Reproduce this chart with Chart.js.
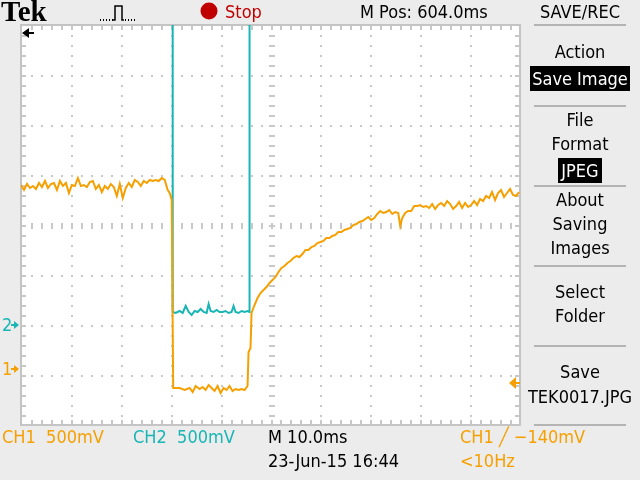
<!DOCTYPE html>
<html>
<head>
<meta charset="utf-8">
<script src="https://cdn.jsdelivr.net/npm/chart.js@4"></script>
<style>
  body { margin: 0; background: #ececec; }
  #wrap { position: relative; width: 640px; height: 480px; overflow: hidden; background: #ececec; }
  canvas { position: absolute; left: 0; top: 0; }
  .t { position: absolute; font-family: 'DejaVu Sans Condensed', 'Liberation Sans Narrow', 'DejaVu Sans', sans-serif;
       font-stretch: condensed; font-size: 18px; line-height: 20px; height: 20px; white-space: pre; color: #000; }
  .c { width: 100px; text-align: center; left: 530px; }
  .inv { background: #000; color: #fff; }
  .or { color: #f5a000; }
  .cy { color: #19b5b5; }
</style>
</head>
<body>
<div id="wrap">
  <canvas id="scope" width="640" height="480"></canvas>

  <div class="t" style="left:1px;top:-3px;height:28px;line-height:28px;font-family:'Liberation Serif','DejaVu Serif',serif;font-weight:bold;font-size:29px;font-stretch:normal">Tek</div>
  <div class="t" style="left:225px;top:2px;color:#c00000">Stop</div>
  <div class="t" style="left:360px;top:2px">M Pos: 604.0ms</div>
  <div class="t c" style="top:2px">SAVE/REC</div>

  <div class="t c" style="top:42px">Action</div>
  <div class="t inv" style="left:530px;top:66px;width:100px;height:25px;line-height:25px;text-align:center">Save Image</div>
  <div class="t c" style="top:110px">File</div>
  <div class="t c" style="top:134px">Format</div>
  <div class="t inv" style="left:558px;top:158px;width:44px;height:25px;line-height:25px;text-align:center">JPEG</div>
  <div class="t c" style="top:190px">About</div>
  <div class="t c" style="top:214px">Saving</div>
  <div class="t c" style="top:238px">Images</div>
  <div class="t c" style="top:282px">Select</div>
  <div class="t c" style="top:306px">Folder</div>
  <div class="t c" style="top:362px">Save</div>
  <div class="t c" style="top:387px;left:520px;width:120px">TEK0017.JPG</div>

  <div class="t cy" style="left:2px;top:315px">2</div>
  <div class="t or" style="left:2px;top:359px">1</div>

  <div class="t or" style="left:2px;top:427px">CH1  500mV</div>
  <div class="t cy" style="left:133px;top:427px">CH2  500mV</div>
  <div class="t" style="left:268px;top:427px">M 10.0ms</div>
  <div class="t or" style="left:460px;top:427px">CH1 ╱ −140mV</div>
  <div class="t" style="left:268px;top:451px">23-Jun-15 16:44</div>
  <div class="t or" style="left:460px;top:451px">&lt;10Hz</div>
</div>

<script>
// screen divisions: x 0..10 (10 ms/div), y -4..4 (500 mV/div)
const ch1Time = [0.00, 0.06, 0.12, 0.18, 0.24, 0.30, 0.36, 0.42, 0.48, 0.54, 0.60, 0.66, 0.72, 0.78, 0.84, 0.90, 0.96,
  1.02, 1.08, 1.14, 1.20, 1.26, 1.32, 1.38, 1.44, 1.50, 1.56, 1.62, 1.68, 1.74, 1.80, 1.86, 1.92, 1.98,
  2.04, 2.10, 2.16, 2.22, 2.28, 2.34, 2.40, 2.46, 2.52, 2.58, 2.64, 2.70, 2.76, 2.82, 2.88, 2.94, 2.98,
  3.02, 3.05, 3.18, 3.28, 3.38, 3.44, 3.50, 3.58, 3.64, 3.70, 3.76, 3.82, 3.88, 3.94, 4.00, 4.06, 4.12,
  4.18, 4.24, 4.30, 4.36, 4.42, 4.48, 4.54, 4.56, 4.60, 4.62, 4.68, 4.74, 4.80, 4.86, 4.92, 4.98,
  5.04, 5.10, 5.16, 5.22, 5.28, 5.34, 5.40, 5.46, 5.52, 5.58, 5.64, 5.70, 5.76, 5.82, 5.88, 5.94,
  6.00, 6.06, 6.12, 6.18, 6.24, 6.30, 6.36, 6.42, 6.48, 6.54, 6.60, 6.66, 6.72, 6.78, 6.84, 6.90, 6.96,
  7.02, 7.08, 7.14, 7.20, 7.26, 7.32, 7.38, 7.44, 7.50, 7.56, 7.60, 7.64, 7.70, 7.76, 7.82, 7.88, 7.94,
  8.00, 8.06, 8.12, 8.18, 8.24, 8.30, 8.36, 8.42, 8.48, 8.54, 8.60, 8.66, 8.72, 8.78, 8.84, 8.90, 8.96,
  9.02, 9.08, 9.14, 9.20, 9.26, 9.32, 9.38, 9.44, 9.50, 9.56, 9.62, 9.68, 9.74, 9.80, 9.86, 9.92, 9.98];
const ch1Level = [0.80, 0.70, 0.82, 0.74, 0.78, 0.72, 0.84, 0.76, 0.88, 0.74, 0.82, 0.84, 0.70, 0.88, 0.78, 0.84, 0.64,
  0.80, 0.78, 0.94, 0.78, 0.80, 0.76, 0.86, 0.88, 0.72, 0.80, 0.66, 0.78, 0.72, 0.82, 0.76, 0.58, 0.82,
  0.54, 0.74, 0.84, 0.76, 0.90, 0.86, 0.78, 0.88, 0.84, 0.90, 0.88, 0.90, 0.88, 0.94, 0.90, 0.70, 0.64,
  0.50, -3.26, -3.26, -3.30, -3.26, -3.34, -3.22, -3.28, -3.24, -3.30, -3.20, -3.26, -3.32, -3.22, -3.36, -3.26, -3.30,
  -3.22, -3.32, -3.28, -3.30, -3.28, -3.30, -3.22, -2.54, -2.46, -1.76, -1.60, -1.46, -1.36, -1.30, -1.24, -1.16,
  -1.10, -1.04, -0.94, -0.86, -0.82, -0.76, -0.72, -0.66, -0.62, -0.64, -0.58, -0.50, -0.50, -0.44, -0.42, -0.36,
  -0.34, -0.32, -0.26, -0.26, -0.22, -0.20, -0.14, -0.14, -0.10, -0.08, -0.06, 0.00, 0.02, 0.06, 0.08, 0.12, 0.16,
  0.10, 0.14, 0.22, 0.28, 0.24, 0.26, 0.30, 0.22, 0.26, 0.24, -0.02, 0.14, 0.24, 0.28, 0.28, 0.38, 0.38,
  0.40, 0.36, 0.38, 0.34, 0.42, 0.32, 0.40, 0.44, 0.38, 0.48, 0.42, 0.32, 0.38, 0.46, 0.34, 0.44, 0.36,
  0.40, 0.48, 0.40, 0.52, 0.48, 0.58, 0.54, 0.66, 0.50, 0.64, 0.70, 0.56, 0.64, 0.72, 0.60, 0.58, 0.66];

const ch2Time = [0.00, 3.04, 3.04, 3.10, 3.18, 3.24, 3.30, 3.36, 3.42, 3.48, 3.54, 3.60, 3.66, 3.72, 3.76, 3.80,
  3.86, 3.92, 3.98, 4.04, 4.10, 4.16, 4.22, 4.26, 4.30, 4.36, 4.42, 4.48, 4.54, 4.58, 4.58, 10.00];
const ch2Level = [4.6, 4.6, -1.74, -1.76, -1.72, -1.76, -1.62, -1.74, -1.80, -1.72, -1.74, -1.68, -1.74, -1.76, -1.58, -1.72,
  -1.74, -1.70, -1.74, -1.74, -1.72, -1.76, -1.74, -1.62, -1.74, -1.76, -1.72, -1.74, -1.72, -1.74, 4.6, 4.6];

const xDivs = 10;
const yDivs = 8;
const ch1Ground = -2.88;
const ch2Ground = -2.0;
const trigLevel = -3.16;

const ch1Color = '#f5a000';
const ch2Color = '#19b5b5';

const pairs = (t, v) => t.map((x, i) => ({ x: x, y: v[i] }));

// Tek style graticule + screen decorations
const scopeDeco = {
  id: 'scopeDeco',
  beforeDatasetsDraw(chart) {
    const { ctx, chartArea: a, scales: { x, y } } = chart;
    ctx.save();
    ctx.fillStyle = '#fff';
    ctx.fillRect(a.left, a.top, a.right - a.left, a.bottom - a.top);
    ctx.fillStyle = '#c8c8c8';
    // dotted division lines
    for (let i = 1; i < xDivs; i++) {
      const px = Math.round(x.getPixelForValue(i));
      for (let j = 1; j < yDivs * 5; j++) {
        const py = Math.round(y.getPixelForValue(-4 + j / 5));
        ctx.fillRect(px, py, 2, 2);
      }
    }
    for (let j = 1; j < yDivs; j++) {
      const py = Math.round(y.getPixelForValue(-4 + j));
      for (let i = 1; i < xDivs * 5; i++) {
        const px = Math.round(x.getPixelForValue(i / 5));
        ctx.fillRect(px, py, 2, 2);
      }
    }
    // centre cross ticks
    const cx = Math.round(x.getPixelForValue(5));
    const cy = Math.round(y.getPixelForValue(0));
    for (let i = 1; i < xDivs * 5; i++) {
      const px = Math.round(x.getPixelForValue(i / 5));
      ctx.fillRect(px, cy - 2, 2, 6);
    }
    for (let j = 1; j < yDivs * 5; j++) {
      const py = Math.round(y.getPixelForValue(-4 + j / 5));
      ctx.fillRect(cx - 2, py, 6, 2);
    }
    // frame ticks
    for (let i = 1; i < xDivs * 5; i++) {
      const px = Math.round(x.getPixelForValue(i / 5));
      ctx.fillRect(px, a.top, 2, 5);
      ctx.fillRect(px, a.bottom - 5, 2, 5);
    }
    for (let j = 1; j < yDivs * 5; j++) {
      const py = Math.round(y.getPixelForValue(-4 + j / 5));
      ctx.fillRect(a.left, py, 5, 2);
      ctx.fillRect(a.right - 5, py, 5, 2);
    }
    ctx.strokeStyle = '#c4c4c4';
    ctx.lineWidth = 2;
    ctx.strokeRect(a.left, a.top, a.right - a.left, a.bottom - a.top);
    ctx.restore();
  },
  afterDraw(chart) {
    const { ctx, chartArea: a, scales: { y } } = chart;
    ctx.save();
    // run/stop dot
    ctx.fillStyle = '#c00000';
    ctx.beginPath();
    ctx.arc(209, 11, 8.5, 0, Math.PI * 2);
    ctx.fill();
    // acquisition icon
    ctx.fillStyle = '#000';
    for (let px = 100; px < 113; px += 3) ctx.fillRect(px, 19, 1, 2);
    for (let px = 125; px < 137; px += 3) ctx.fillRect(px, 19, 1, 2);
    ctx.strokeStyle = '#000';
    ctx.lineWidth = 1.5;
    ctx.beginPath();
    ctx.moveTo(113, 20); ctx.lineTo(115, 20); ctx.lineTo(115, 6); ctx.lineTo(122, 6); ctx.lineTo(122, 20); ctx.lineTo(124, 20);
    ctx.stroke();
    // trigger position arrow (left, off-screen)
    ctx.fillStyle = '#000';
    ctx.beginPath();
    ctx.moveTo(22, 33); ctx.lineTo(29, 28); ctx.lineTo(29, 38); ctx.closePath();
    ctx.fill();
    ctx.fillRect(27, 32, 7, 2);
    // channel ground markers
    const mark = (py, col) => {
      ctx.fillStyle = col;
      ctx.beginPath();
      ctx.moveTo(19, py); ctx.lineTo(14, py - 4); ctx.lineTo(14, py + 4); ctx.closePath();
      ctx.fill();
      ctx.fillRect(11, py - 1, 4, 2);
    };
    mark(Math.round(y.getPixelForValue(ch2Ground)), ch2Color);
    mark(Math.round(y.getPixelForValue(ch1Ground)), ch1Color);
    // trigger level marker
    const ty = Math.round(y.getPixelForValue(trigLevel));
    ctx.fillStyle = ch1Color;
    ctx.beginPath();
    ctx.moveTo(a.right - 11, ty); ctx.lineTo(a.right - 4, ty - 6); ctx.lineTo(a.right - 4, ty + 6); ctx.closePath();
    ctx.fill();
    ctx.fillRect(a.right - 5, ty - 1, 5, 2);
    // menu separators
    ctx.fillStyle = '#b4b4b4';
    [24, 105, 185, 265, 345, 424].forEach(py => ctx.fillRect(534, py, 92, 2));
    ctx.restore();
  }
};

new Chart(document.getElementById('scope'), {
  type: 'line',
  data: {
    datasets: [
      { label: 'CH1', data: pairs(ch1Time, ch1Level), borderColor: ch1Color, clip: 0 },
      { label: 'CH2', data: pairs(ch2Time, ch2Level), borderColor: ch2Color, clip: 0 }
    ]
  },
  options: {
    responsive: false,
    animation: false,
    events: [],
    layout: { padding: { left: 21, top: 25, right: 120, bottom: 55 } },
    elements: {
      line: { borderWidth: 2, tension: 0, borderJoinStyle: 'miter' },
      point: { radius: 0 }
    },
    scales: {
      x: { type: 'linear', min: 0, max: xDivs, display: false },
      y: { type: 'linear', min: -yDivs / 2, max: yDivs / 2, display: false }
    },
    plugins: { legend: { display: false }, tooltip: { enabled: false } }
  },
  plugins: [scopeDeco]
});
</script>
</body>
</html>
